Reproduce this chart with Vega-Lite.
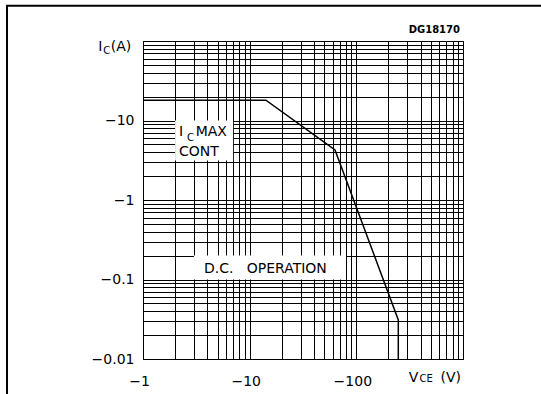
{
  "$schema": "https://vega.github.io/schema/vega-lite/v6.json",
  "width": 320,
  "height": 318,
  "autosize": {"type": "none"},
  "padding": {"left": 143, "top": 41, "right": 78, "bottom": 35},
  "background": "white",
  "config": {
    "view": {"stroke": "black", "strokeWidth": 1},
    "font": "DejaVu Sans",
    "text": {"font": "DejaVu Sans", "color": "black"}
  },
  "datasets": {
    "curve": [
      {"i": 0, "x": 1, "y": 18},
      {"i": 1, "x": 14.2, "y": 18},
      {"i": 2, "x": 63.1, "y": 4.26},
      {"i": 3, "x": 247.4, "y": 0.031},
      {"i": 4, "x": 247.4, "y": 0.01}
    ],
    "boxes": [
      {"x": 2, "x2": 7, "y": 10, "y2": 3.15},
      {"x": 3, "x2": 80, "y": 0.2, "y2": 0.1}
    ],
    "frame": [
      {"x": 0.0531, "x2": 100000, "y": 277, "y2": 0.0001}
    ],
    "labels14": [
      {"x": 2.176, "y": 6.38, "t": "I"},
      {"x": 3.12, "y": 6.38, "t": "MAX"},
      {"x": 2.176, "y": 3.57, "t": "CONT"},
      {"x": 3.73, "y": 0.121, "t": "D.C."},
      {"x": 9.38, "y": 0.121, "t": "OPERATION"},
      {"x": 0.381, "y": 74.8, "t": "I"},
      {"x": 0.498, "y": 74.8, "t": "(A)"},
      {"x": 310, "y": 0.00518, "t": "V"},
      {"x": 615, "y": 0.00518, "t": "(V)"}
    ],
    "labels10": [
      {"x": 2.586, "y": 5.52, "t": "C"},
      {"x": 0.424, "y": 69.6, "t": "C"},
      {"x": 392, "y": 0.00514, "t": "CE"}
    ],
    "code": [
      {"x": 937.5, "y": 124.3, "t": "DG18170"}
    ]
  },
  "encoding": {
    "x": {
      "field": "x",
      "type": "quantitative",
      "scale": {"type": "log", "domain": [1, 1000], "nice": false},
      "axis": {
        "values": [1,2,3,4,5,6,7,8,9,10,20,30,40,50,60,70,80,90,100,200,300,400,500,600,700,800,900,1000],
        "grid": true,
        "gridColor": "black",
        "gridOpacity": 1,
        "gridWidth": 1,
        "ticks": false,
        "domain": false,
        "title": null,
        "labelExpr": "datum.value == 1 ? '−1' : datum.value == 10 ? '−10' : datum.value == 100 ? '−100' : ''",
        "labelFont": "DejaVu Sans",
        "labelFontSize": 14,
        "labelColor": "black",
        "labelPadding": 15,
        "labelOffset": -4,
        "labelOverlap": false,
        "labelFlush": false,
        "labelBound": false
      }
    },
    "y": {
      "field": "y",
      "type": "quantitative",
      "scale": {"type": "log", "domain": [0.01, 100], "nice": false},
      "axis": {
        "values": [0.01,0.02,0.03,0.04,0.05,0.06,0.07,0.08,0.09,0.1,0.2,0.3,0.4,0.5,0.6,0.7,0.8,0.9,1,2,3,4,5,6,7,8,9,10,20,30,40,50,60,70,80,90,100],
        "grid": true,
        "gridColor": "black",
        "gridOpacity": 1,
        "gridWidth": 1,
        "ticks": false,
        "domain": false,
        "title": null,
        "labelExpr": "datum.value == 0.01 ? '−0.01' : datum.value == 0.1 ? '−0.1' : datum.value == 1 ? '−1' : datum.value == 10 ? '−10' : ''",
        "labelFont": "DejaVu Sans",
        "labelFontSize": 14,
        "labelColor": "black",
        "labelPadding": 9,
        "labelOverlap": false,
        "labelFlush": false,
        "labelBound": false
      }
    }
  },
  "layer": [
    {
      "data": {"name": "frame"},
      "mark": {"type": "rect", "fill": null, "fillOpacity": 0, "stroke": "black", "strokeWidth": 2, "clip": false},
      "encoding": {
        "x2": {"field": "x2"},
        "y2": {"field": "y2"}
      }
    },
    {
      "data": {"name": "boxes"},
      "mark": {"type": "rect", "fill": "white", "stroke": null},
      "encoding": {
        "x2": {"field": "x2"},
        "y2": {"field": "y2"}
      }
    },
    {
      "data": {"name": "curve"},
      "mark": {"type": "line", "color": "black", "strokeWidth": 1.5},
      "encoding": {
        "order": {"field": "i", "type": "quantitative"}
      }
    },
    {
      "data": {"name": "labels14"},
      "mark": {"type": "text", "font": "DejaVu Sans", "fontSize": 14, "align": "left", "baseline": "alphabetic", "color": "black"},
      "encoding": {"text": {"field": "t"}}
    },
    {
      "data": {"name": "labels10"},
      "mark": {"type": "text", "font": "DejaVu Sans", "fontSize": 10, "align": "left", "baseline": "alphabetic", "color": "black"},
      "encoding": {"text": {"field": "t"}}
    },
    {
      "data": {"name": "code"},
      "mark": {"type": "text", "font": "DejaVu Sans", "fontSize": 10, "fontWeight": "bold", "align": "right", "baseline": "alphabetic", "color": "black"},
      "encoding": {"text": {"field": "t"}}
    }
  ]
}
